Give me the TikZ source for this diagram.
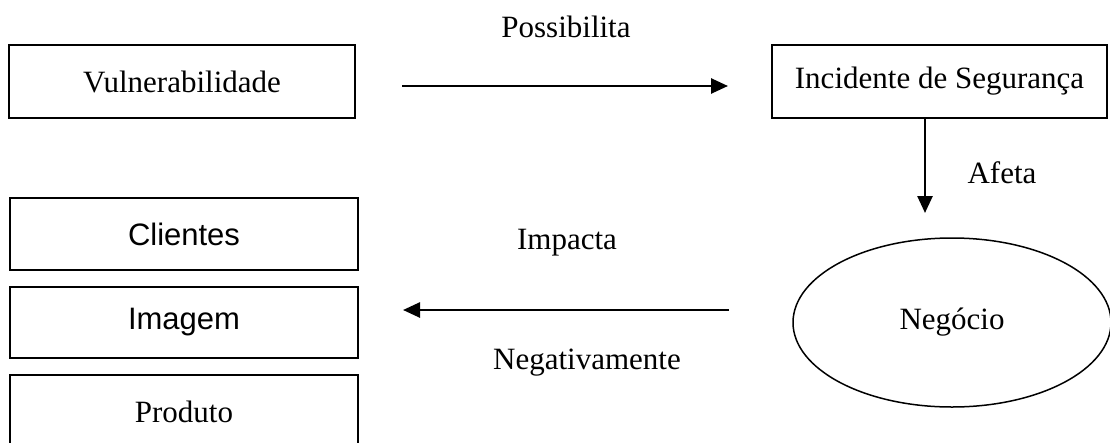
\documentclass[tikz,border=0pt]{standalone}
\usepackage{fontspec}
\setmainfont{Liberation Serif}
\newfontfamily\arialf{Liberation Sans}
\usetikzlibrary{arrows.meta,shapes.geometric}
\begin{document}
\begin{tikzpicture}[x=1pt,y=-1pt,
  box/.style={draw, line width=1.5pt, inner sep=0pt, minimum width=#1, font=\fontsize{31}{36}\selectfont},
  box/.default=346pt,
  lbl/.style={inner sep=0pt, font=\fontsize{31}{36}\selectfont},
  arr/.style={line width=2.6pt, -{Triangle[length=17pt,width=15pt]}}]
\useasboundingbox (0,0) rectangle (1110,442);
\clip (0,0) rectangle (1110,442);
% boxes
\node[box=346pt, minimum height=73pt] (vul) at (182,81.5) {Vulnerabilidade};
\node[box=335pt, minimum height=73pt] (inc) at (939.5,81.5) {Incidente de Seguran\c{c}a};
\node[draw, ellipse, line width=1.5pt, minimum width=318pt, minimum height=169pt, inner sep=0pt, font=\fontsize{31}{36}\selectfont] (neg) at (952,322.5) {\raisebox{-5pt}{Neg\'ocio}};
\node[box=348pt, minimum height=72pt, font=\arialf\fontsize{31}{36}\selectfont] (cli) at (184,234) {Clientes};
\node[box=348pt, minimum height=71pt, font=\arialf\fontsize{31}{36}\selectfont] (ima) at (184,322.5) {Imagem};
\node[box=348pt, minimum height=73pt] (pro) at (184,411.5) {Produto};
% labels
\node[lbl] (possib) at (566,27) {Possibilita};
\node[lbl] (afeta) at (1002,173) {Afeta};
\node[lbl] (impacta) at (567,243) {Impacta};
\node[lbl] (negat) at (587,363) {Negativamente};
% connector ends
\coordinate (a1s) at (402,86);
\coordinate (a1e) at (728,86);
\coordinate (a2s) at (925,118);
\coordinate (a2e) at (925,213);
\coordinate (a3s) at (729,310);
\coordinate (a3e) at (403,310);
\draw[arr] (a1s) -- (a1e);
\draw[arr] (a2s) -- (a2e);
\draw[arr] (a3s) -- (a3e);
\end{tikzpicture}
\end{document}
